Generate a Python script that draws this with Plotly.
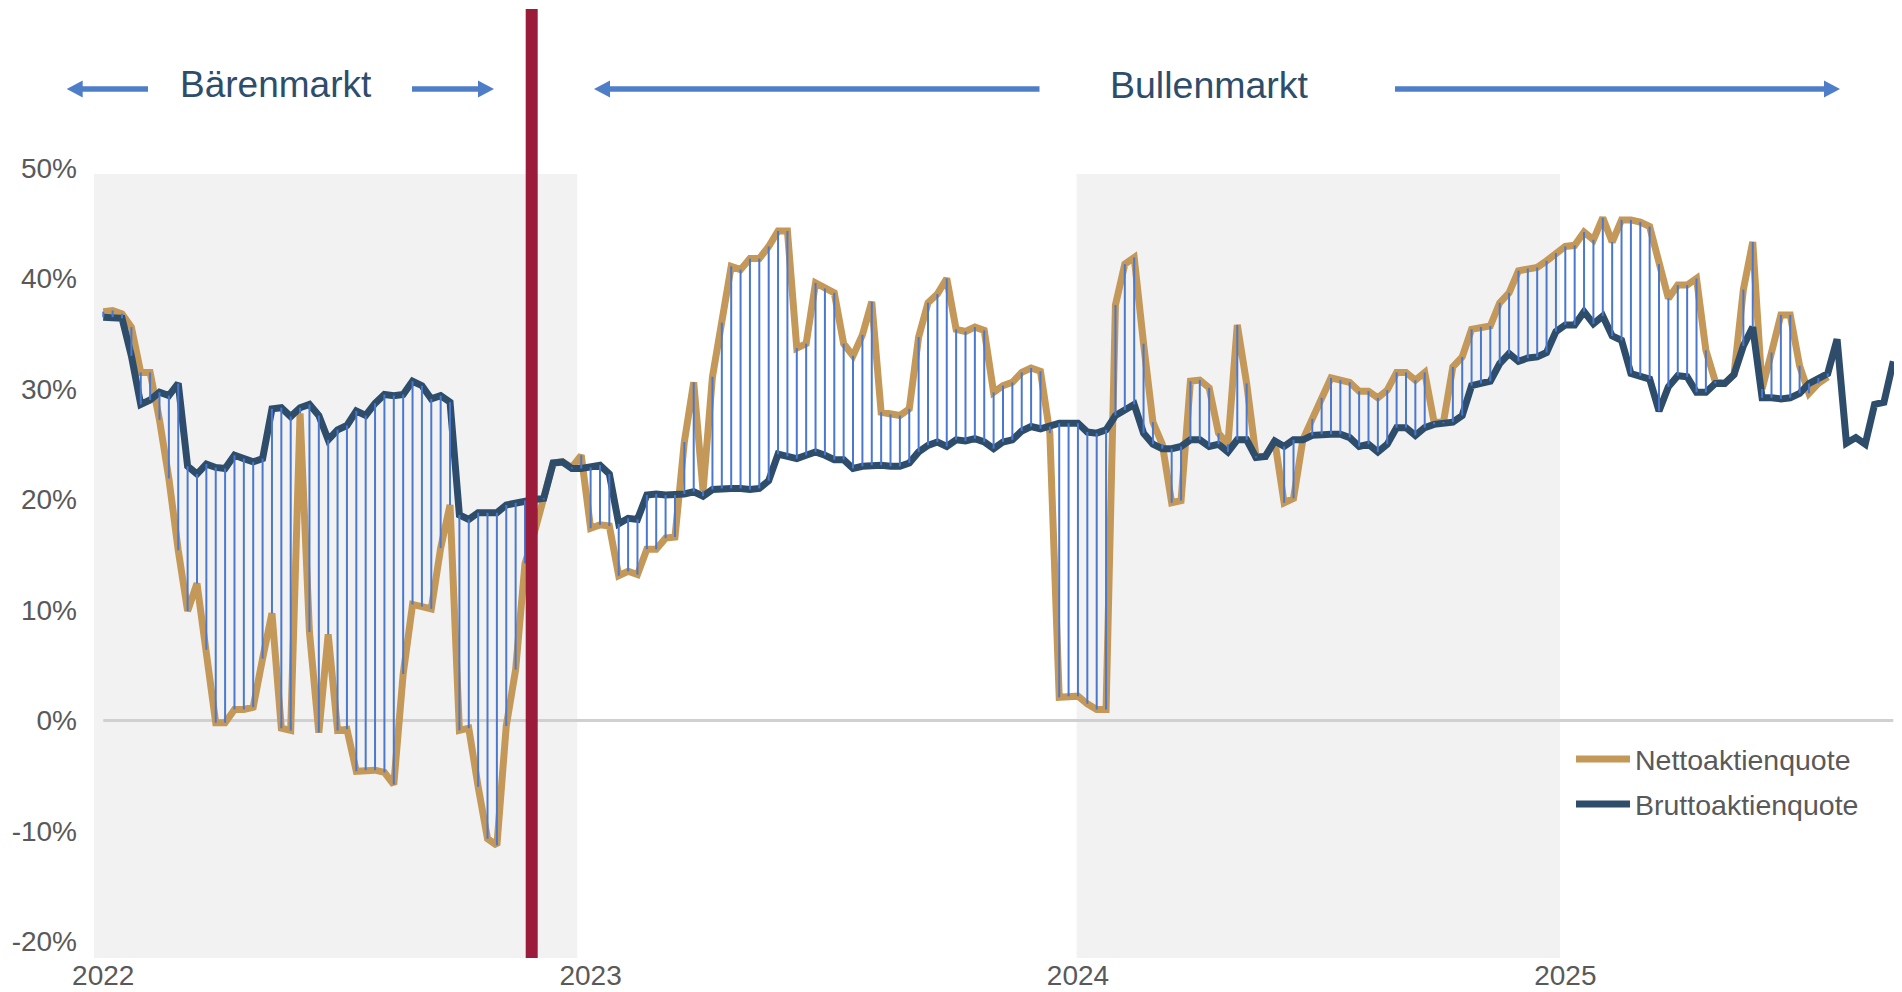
import pandas as pd
import plotly.graph_objects as go

# ---------------- data ----------------
dates = pd.date_range("2022-01-07", periods=192, freq="7D")

netto = [
    37.0, 37.1, 36.8, 35.6, 31.5, 31.5, 27.2, 21.9, 15.4, 9.9,
    12.4, 6.4, -0.2, -0.2, 1.0, 1.0, 1.2, 5.6, 9.7, -0.7,
    -0.9, 27.8, 8.0, -1.1, 7.8, -0.9, -0.8, -4.6, -4.5, -4.5,
    -4.7, -5.8, 4.2, 10.5, 10.3, 10.1, 15.6, 19.5, -0.9, -0.7,
    -6.0, -10.7, -11.3, -0.5, 4.6, 14.2, 17.0, 20.0, 23.3, 23.4,
    22.9, 24.0, 17.4, 17.7, 17.6, 13.1, 13.5, 13.2, 15.5, 15.5,
    16.5, 16.6, 25.2, 30.6, 20.8, 31.1, 36.0, 41.1, 40.8, 41.8,
    41.8, 42.9, 44.3, 44.3, 33.7, 34.1, 39.6, 39.1, 38.7, 34.1,
    33.0, 34.9, 37.9, 27.9, 27.7, 27.6, 28.2, 34.7, 37.8, 38.6,
    40.0, 35.4, 35.2, 35.6, 35.3, 29.7, 30.3, 30.6, 31.5, 31.9,
    31.6, 26.0, 2.1, 2.2, 2.2, 1.5, 1.0, 1.0, 37.6, 41.3,
    41.9, 34.1, 27.0, 25.0, 19.7, 19.9, 30.7, 30.8, 30.1, 26.0,
    25.0, 35.8, 30.5, 23.9, 23.9, 25.3, 19.7, 20.1, 25.4, 27.3,
    29.2, 31.0, 30.8, 30.6, 29.8, 29.8, 29.2, 29.9, 31.5, 31.5,
    30.8, 31.5, 27.0, 27.0, 32.0, 32.9, 35.4, 35.6, 35.7, 37.8,
    38.7, 40.7, 40.9, 41.0, 41.6, 42.3, 42.9, 43.0, 44.2, 43.5,
    45.5, 43.3, 45.3, 45.3, 45.1, 44.7, 41.3, 38.2, 39.4, 39.4,
    40.0, 33.5, 30.7, 30.5, 31.3, 39.0, 43.3, 30.0, 33.3, 36.7,
    36.7, 32.1, 29.6, 30.5, 31.1,
]

brutto = [
    36.5, 36.5, 36.4, 33.0, 28.6, 29.0, 29.7, 29.4, 30.5, 23.0,
    22.3, 23.2, 22.9, 22.8, 24.0, 23.7, 23.4, 23.7, 28.2, 28.3,
    27.5, 28.3, 28.6, 27.6, 25.4, 26.3, 26.7, 28.0, 27.6, 28.7,
    29.5, 29.4, 29.5, 30.7, 30.3, 29.1, 29.4, 28.8, 18.6, 18.2,
    18.8, 18.8, 18.8, 19.5, 19.7, 19.9, 20.0, 20.1, 23.3, 23.4,
    22.8, 22.8, 22.9, 23.1, 22.3, 17.8, 18.3, 18.2, 20.4, 20.5,
    20.4, 20.4, 20.5, 20.7, 20.3, 20.9, 21.0, 21.0, 21.0, 20.9,
    21.0, 21.7, 24.1, 23.9, 23.7, 24.0, 24.3, 24.0, 23.6, 23.6,
    22.8, 23.0, 23.1, 23.1, 23.0, 23.0, 23.3, 24.3, 24.9, 25.2,
    24.8, 25.4, 25.3, 25.5, 25.2, 24.6, 25.2, 25.4, 26.2, 26.6,
    26.4, 26.6, 26.9, 26.9, 26.9, 26.1, 26.0, 26.3, 27.6, 28.1,
    28.6, 26.0, 25.0, 24.6, 24.6, 24.8, 25.4, 25.4, 24.8, 25.0,
    24.3, 25.4, 25.4, 23.8, 23.9, 25.3, 24.8, 25.4, 25.4, 25.8,
    25.9, 25.9, 25.9, 25.6, 24.8, 25.0, 24.3, 25.0, 26.5, 26.5,
    25.8, 26.5, 26.8, 26.9, 27.0, 27.6, 30.3, 30.5, 30.7, 32.3,
    33.2, 32.5, 32.8, 32.9, 33.3, 35.2, 35.8, 35.8, 37.0, 35.9,
    36.6, 34.8, 34.4, 31.4, 31.2, 30.9, 28.0, 30.2, 31.2, 31.1,
    29.7, 29.7, 30.5, 30.5, 31.3, 33.9, 35.6, 29.2, 29.2, 29.1,
    29.2, 29.6, 30.5, 31.0, 31.4, 34.5, 25.1, 25.6, 25.0, 28.6,
    28.8, 32.5,
]

y_ticks = [-20, -10, 0, 10, 20, 30, 40, 50]
y_labels = [f"{v}%" for v in y_ticks]
year_labels = ["2022", "2023", "2024", "2025"]
year_ticks = [next(d for d in dates if d.year == int(y)) for y in year_labels]

bear_band = ("2021-12-31", "2022-12-27")
bull_band = ("2024-01-04", "2024-12-30")
red_line_date = "2022-11-23"

# ---------------- styling / geometry ----------------
# The page body has an 8px margin, so the figure is drawn 8px right/down.
OFF = 8
W, H = 1902 - OFF, 992 - OFF
# plot-area edges in screen pixels
PL, PR, PT, PB = 94, 1896, 168, 958
FONT = "Liberation Sans, Arial, sans-serif"
C_NETTO = "#C49858"
C_BRUTTO = "#2E4D6B"
C_DROP = "#4A78CF"
C_ARROW = "#4F7EC8"
C_RED = "#9B1B3A"
C_TEXT = "#595959"


def pxx(px):
    return (px - PL) / (PR - PL)


def pxy(py):
    return (PB - py) / (PB - PT)


fig = go.Figure()

# zero line
fig.add_trace(go.Scatter(x=[dates[0], dates[-1]], y=[0, 0], mode="lines",
                         line=dict(color="#D0D0D0", width=3),
                         showlegend=False, hoverinfo="skip"))
fig.add_trace(go.Scatter(x=dates[:len(netto)], y=netto, mode="lines",
                         name="Nettoaktienquote", legendgroup="n",
                         line=dict(color=C_NETTO, width=7)))
fig.add_trace(go.Scatter(x=dates, y=brutto, mode="lines",
                         name="Bruttoaktienquote", legendgroup="b",
                         line=dict(color=C_BRUTTO, width=7)))

# high-low (drop) lines between the two series
dx, dy = [], []
for d, n, b in zip(dates, netto, brutto):
    dx += [d, d, None]
    dy += [n, b, None]
fig.add_trace(go.Scatter(x=dx, y=dy, mode="lines",
                         line=dict(color=C_DROP, width=2),
                         showlegend=False, hoverinfo="skip"))

shapes = []
for x0, x1 in (bear_band, bull_band):
    shapes.append(dict(type="rect", xref="x", yref="y", x0=x0, x1=x1,
                       y0=-21.5, y1=49.45, fillcolor="#F2F2F2",
                       line=dict(width=0), layer="below"))
shapes.append(dict(type="line", xref="x", yref="paper", x0=red_line_date,
                   x1=red_line_date, y0=0, y1=pxy(9),
                   line=dict(color=C_RED, width=12), layer="above"))


def arrow(tail_px, tip_px, y_px=89, head_len=16, head_half=8.5, width=5.7):
    sgn = 1 if tip_px > tail_px else -1
    base = tip_px - sgn * head_len
    out = [dict(type="line", xref="paper", yref="paper",
                x0=pxx(tail_px), x1=pxx(base + sgn * 1), y0=pxy(y_px), y1=pxy(y_px),
                line=dict(color=C_ARROW, width=width))]
    path = (f"M{pxx(tip_px)},{pxy(y_px)} L{pxx(base)},{pxy(y_px - head_half)} "
            f"L{pxx(base)},{pxy(y_px + head_half)} Z")
    out.append(dict(type="path", xref="paper", yref="paper", path=path,
                    fillcolor=C_ARROW, line=dict(width=0)))
    return out


shapes += arrow(148, 66.7)
shapes += arrow(412, 494)
shapes += arrow(1039.5, 594)
shapes += arrow(1395, 1840)

annotations = [
    dict(text="Bärenmarkt", x=pxx(276), y=pxy(84.5), xref="paper", yref="paper",
         showarrow=False, xanchor="center", yanchor="middle",
         font=dict(family=FONT, size=37, color=C_BRUTTO)),
    dict(text="Bullenmarkt", x=pxx(1209), y=pxy(84.5), xref="paper", yref="paper",
         showarrow=False, xanchor="center", yanchor="middle",
         font=dict(family=FONT, size=37.5, color=C_BRUTTO)),
]

fig.update_layout(
    width=W, height=H,
    margin=dict(l=PL - OFF, r=W - (PR - OFF), t=PT - OFF, b=H - (PB - OFF),
                pad=0, autoexpand=False),
    paper_bgcolor="white", plot_bgcolor="white",
    font=dict(family=FONT, size=28, color=C_TEXT),
    shapes=shapes, annotations=annotations,
    showlegend=True,
    legend=dict(x=pxx(1571), y=pxy(734), xanchor="left", yanchor="top",
                bgcolor="rgba(0,0,0,0)", itemwidth=54,
                font=dict(family=FONT, size=28.5, color=C_TEXT),
                tracegroupgap=5),
    hovermode=False,
)
fig.update_xaxes(type="date", range=["2021-12-31 02:00", "2025-09-07"],
                 tickvals=year_ticks, ticktext=year_labels,
                 showgrid=False, zeroline=False, showline=False, ticks="",
                 ticklabelstandoff=-2, automargin=False,
                 tickfont=dict(family=FONT, size=28, color=C_TEXT))
fig.update_yaxes(range=[-21.5, 50], tickvals=y_ticks, ticktext=y_labels,
                 showgrid=False, zeroline=False, showline=False, ticks="",
                 ticklabelstandoff=16, automargin=False,
                 tickfont=dict(family=FONT, size=28, color=C_TEXT))

fig.write_html("out.html")
